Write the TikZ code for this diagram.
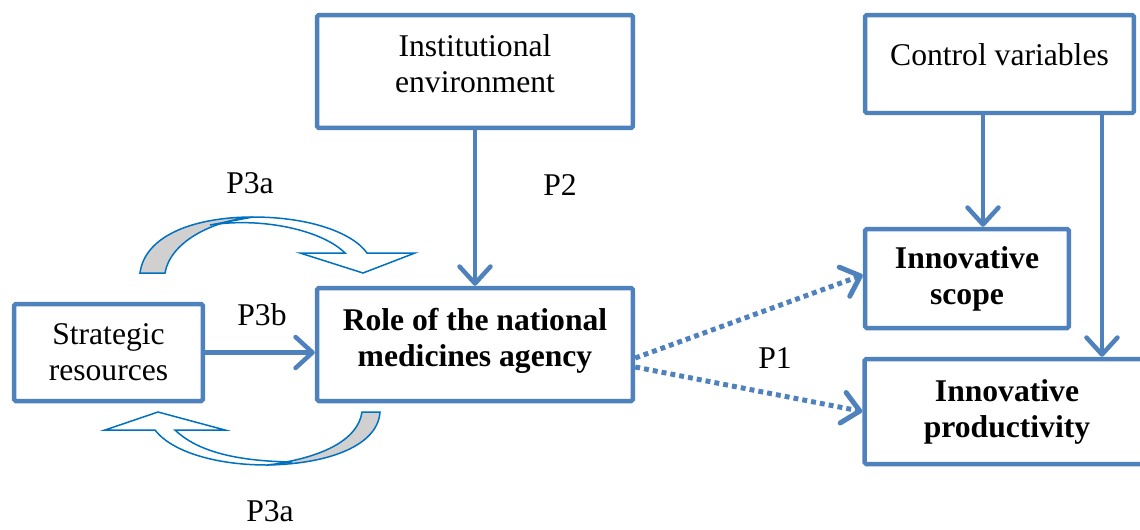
\documentclass[tikz,border=0pt]{standalone}
\usepackage{fontspec}
\setmainfont{Liberation Serif}
\usetikzlibrary{arrows.meta}
\definecolor{boxblue}{RGB}{79,129,189}
\definecolor{curveblue}{RGB}{0,112,192}
\definecolor{backgray}{RGB}{208,208,208}
\tikzset{
	box/.style={draw=boxblue, line width=0.09cm, rounded corners=1pt, align=center, inner sep=0pt},
	link/.style={draw=boxblue, line width=0.09cm, -{Straight Barb[length=0.34cm, width=0.62cm, round]}},
	dotlink/.style={link, line width=0.1cm, dash pattern=on 2.8pt off 2.3pt},
	turn/.style={draw=curveblue, line width=0.03cm, line join=miter},
	plabel/.style={inner sep=0pt}
}
\begin{document}
\begin{tikzpicture}[x=0.02cm, y=-0.02cm, font=\fontsize{18}{20.5}\selectfont]
	\clip (0,0) rectangle (1140,529);
	% boxes
	\node [box, minimum width=6.32cm, minimum height=2.26cm, text depth=0.3cm] (inst) at (475,71.5) {Institutional\\environment};
	\node [box, minimum width=5.38cm, minimum height=1.96cm, text depth=0.36cm] (ctrl) at (999.5,64) {Control variables};
	\node [box, minimum width=3.78cm, minimum height=1.94cm] (strat) at (108.5,352.5) {Strategic\\resources};
	\node [box, minimum width=6.32cm, minimum height=2.26cm, text depth=0.3cm, font=\fontsize{18}{20.5}\selectfont\bfseries] (role) at (475,344.5) {Role of the national\\medicines agency};
	\node [box, minimum width=4.08cm, minimum height=1.98cm, font=\fontsize{18}{20.5}\selectfont\bfseries] (scope) at (967,278.5) {Innovative\\scope};
	\node [box, minimum width=5.7cm, minimum height=2.1cm, font=\fontsize{18}{20.5}\selectfont\bfseries] (prod) at (1007,411.5) {Innovative\\productivity};
	% straight links
	\draw [link] (inst.south) -- (role.north);
	\draw [link] (strat.east) -- (strat.east -| role.west);
	\draw [link] ([xshift=-0.33cm]ctrl.south) -- ([xshift=-0.33cm]ctrl.south |- scope.north);
	\draw [link] ([xshift=2.05cm]ctrl.south) -- ([xshift=2.05cm]ctrl.south |- prod.north);
	\draw [dotlink] ([yshift=-0.27cm]role.east) -- ([yshift=0.07cm]scope.west);
	\draw [dotlink] ([yshift=-0.45cm]role.east) -- (prod.west);
	% curved arrows
	\draw [turn, fill=backgray] (140,273) .. controls (145,235) and (195,217) .. (253,217) .. controls (210,221) and (170,243) .. (165,273) -- cycle;
	\draw [turn, fill=white] (253,217) .. controls (308,217) and (352,232) .. (367,253) -- (415,253) -- (363,273) -- (300,253) -- (345,253) .. controls (322,230) and (262,217) .. (210,225) -- cycle;
	\draw [turn, fill=backgray] (380,412) .. controls (378,445) and (330,464) .. (267,465) .. controls (322,458) and (358,440) .. (362,412) -- cycle;
	\draw [turn, fill=white] (267,465) .. controls (212,465) and (170,450) .. (155,430) -- (105,430) -- (158,412) -- (225,430) -- (175,430) .. controls (196,450) and (232,461) .. (292,462) -- cycle;
	% labels
	\node [plabel] (p2) at (560,185) {P2};
	\node [plabel] (p3top) at (250,183) {P3a};
	\node [plabel] (p3b) at (262,315) {P3b};
	\node [plabel] (p1) at (775,358) {P1};
	\node [plabel] (p3bottom) at (270,511) {P3a};
\end{tikzpicture}
\end{document}
